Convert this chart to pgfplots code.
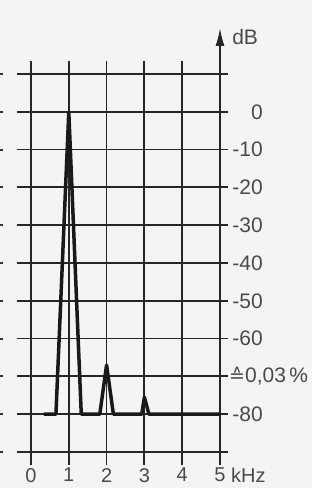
\documentclass[border=0pt]{standalone}
\usepackage{fontspec}
\setmainfont{Liberation Sans}
\newfontfamily\dejavu{DejaVu Sans}
\usepackage{pgfplots}
\pgfplotsset{compat=1.18}
\usetikzlibrary{arrows.meta}
\definecolor{bg}{HTML}{F4F4F4}
\definecolor{txt}{HTML}{4A4A4A}
\definecolor{gridc}{HTML}{262626}
\begin{document}
\begin{tikzpicture}
\useasboundingbox (-17pt,-23pt) rectangle (315pt,465pt);
\fill[bg] (-17pt,-23pt) rectangle (297pt,465pt);
\fill[white] (295pt,-23pt) rectangle (315pt,465pt);
\foreach \i in {0,...,10} \draw[line width=2pt, black!80] (-17pt,{(391-37.8*\i)*1pt}) -- ++(3pt,0);
\begin{axis}[
  x=37.8pt, y=3.78pt,
  xmin=-0.37, xmax=5.212, ymin=-93.44, ymax=13.44,
  clip=false,
  axis line style={draw=none},
  tick style={draw=none},
  grid=major,
  grid style={line width=1.8pt, color=gridc},
  major grid style={line width=1.8pt, color=gridc},
  xtick={0,1,2,3,4,5},
  xticklabels={0,1,2,3,4,5},
  xticklabel style={inner sep=0pt, yshift=-3pt, font=\fontsize{20}{24}\selectfont, text=txt},
  ytick={-90,-80,-70,-60,-50,-40,-30,-20,-10,0,10},
  yticklabels={,-80,,-60,-50,-40,-30,-20,-10,0,},
  yticklabel pos=right,
  yticklabel style={anchor=east, inner sep=0pt, xshift=35pt, font=\fontsize{21}{25}\selectfont, text=txt},
]
\addplot[line width=3.5pt, color=black!90, line join=round, line cap=round] coordinates {
  (0.35,-80) (0.66,-80) (1,0) (1.33,-80) (1.82,-80) (2,-67) (2.18,-80)
  (2.93,-80) (3,-75.5) (3.12,-80) (5,-80)
};
\draw[line width=1.8pt, gridc, -{Latex[length=18pt,width=9pt]}] (axis cs:5,13.44) -- (axis cs:5,22.17);
\node[anchor=base west, inner sep=0pt, text=txt, font=\fontsize{21}{25}\selectfont] at (axis cs:5.32,17.67) {dB};
\node[anchor=north west, inner sep=0pt, yshift=-3pt, text=txt, font=\fontsize{20}{24}\selectfont] at (axis cs:5.29,-93.44) {kHz};
\node[anchor=west, inner sep=0pt, xshift=1pt, text=txt, font=\fontsize{21}{25}\selectfont] at (axis cs:5.212,-70) {{\dejavu\fontsize{19}{21}\selectfont ≙}0,03\,\%};
\end{axis}
\end{tikzpicture}
\end{document}
